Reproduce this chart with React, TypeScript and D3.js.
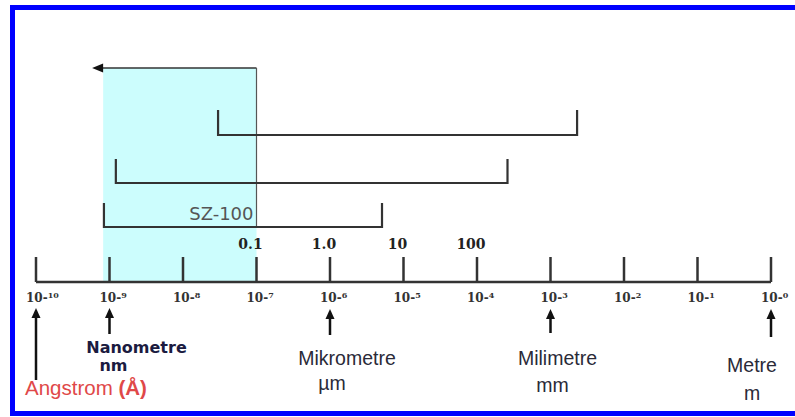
import React from "react";
import * as d3 from "d3";

const tickExponents = [-10, -9, -8, -7, -6, -5, -4, -3, -2, -1, 0];
const tickSuffix = ["10", "9", "8", "7", "6", "5", "4", "3", "2", "1", "0"];
const umLabels = ["0.1", "1.0", "10", "100"];
const umValues = [1e-7, 1e-6, 1e-5, 1e-4];
const rangeStarts = [3.0e-8, 1.22e-9, 8.4e-10];
const rangeEnds = [2.3e-3, 2.6e-4, 5.1e-6];
const rangeTops = [110, 159, 203];
const rangeBottoms = [135, 183, 227];
const rangeLabels = ["", "", "SZ-100"];
const shadeStart = 8.2e-10;
const shadeEnd = 1e-7;
const arrowTip = 5.8e-10;
const unitValues = [1e-10, 1e-9, 1e-6, 1e-3, 1];
const unitNames = ["Angstrom", "Nanometre", "Mikrometre", "Milimetre", "Metre"];
const unitSymbols = ["(Å)", "nm", "µm", "mm", "m"];

export default function App() {
  const x = d3.scaleLog().domain([1e-10, 1]).range([36, 771]);
  const axisY = 282;
  const dark = "#333";
  const sx = x(shadeStart);
  const ex = x(shadeEnd);
  const tipX = x(arrowTip);

  const upArrow = (cx: number, tip: number, bottom: number, key: string) => (
    <g key={key}>
      <line x1={cx} x2={cx} y1={tip + 8} y2={bottom} stroke="#111" strokeWidth={2.5} />
      <path d={`M${cx},${tip} L${cx - 4.5},${tip + 10} L${cx + 4.5},${tip + 10} Z`} fill="#111" />
    </g>
  );

  const unitFont = { fontFamily: "Liberation Sans", fontSize: 19.5, fill: "#2a2a38" };

  return (
    <div style={{ position: "absolute", left: 0, top: 0 }}>
      <svg width={795} height={417} style={{ display: "block" }}>
        <rect x={0} y={0} width={795} height={417} fill="#fff" />
        {/* shaded region */}
        <rect x={sx} y={68} width={ex - sx} height={axisY - 68} fill="#ccfdfd" />
        {/* top arrow and box right edge */}
        <line x1={ex} x2={tipX + 9} y1={68} y2={68} stroke={dark} strokeWidth={1.5} />
        <path d={`M${tipX},68 L${tipX + 11},63.5 L${tipX + 11},72.5 Z`} fill="#111" />
        <line x1={ex} x2={ex} y1={68} y2={227} stroke="#555" strokeWidth={1.2} />
        {/* brackets */}
        {rangeStarts.map((s, i) => {
          const a = x(s);
          const b = x(rangeEnds[i]);
          return (
            <path
              key={"r" + i}
              d={`M${a},${rangeTops[i]} L${a},${rangeBottoms[i]} L${b},${rangeBottoms[i]} L${b},${rangeTops[i]}`}
              fill="none"
              stroke={dark}
              strokeWidth={2.2}
            />
          );
        })}
        {rangeLabels.map((t, i) =>
          t ? (
            <text
              key={"rl" + i}
              x={ex - 3}
              y={rangeBottoms[i] - 7}
              textAnchor="end"
              fontFamily="DejaVu Sans"
              fontSize={18}
              fill="#555"
            >
              {t}
            </text>
          ) : null
        )}
        {/* micrometre labels */}
        {umValues.map((v, i) => (
          <text
            key={"um" + i}
            x={x(v) - 6}
            y={249}
            textAnchor="middle"
            fontFamily="DejaVu Serif"
            fontWeight="bold"
            fontSize={14}
            fill="#222"
          >
            {umLabels[i]}
          </text>
        ))}
        {/* axis */}
        <line x1={x(1e-10)} x2={x(1)} y1={axisY} y2={axisY} stroke={dark} strokeWidth={2.5} />
        {tickExponents.map((e, i) => (
          <g key={"t" + i}>
            <line x1={x(Math.pow(10, e))} x2={x(Math.pow(10, e))} y1={257} y2={axisY} stroke={dark} strokeWidth={2.5} />
            <text
              x={x(Math.pow(10, e)) - 10}
              y={302}
              fontFamily="DejaVu Serif"
              fontWeight="bold"
              fontSize={12}
              fill="#333"
            >
              10-
              <tspan fontSize={8} dy={-4}>
                {tickSuffix[i]}
              </tspan>
            </text>
          </g>
        ))}
        {/* unit arrows */}
        {upArrow(x(unitValues[0]), 308, 380, "a0")}
        {upArrow(x(unitValues[1]), 308, 334, "a1")}
        {upArrow(x(unitValues[2]), 309, 335, "a2")}
        {upArrow(x(unitValues[3]), 309, 333, "a3")}
        {upArrow(x(unitValues[4]), 309, 337, "a4")}
        {/* unit labels */}
        <text x={25} y={395} fontFamily="Liberation Sans" fontSize={20.5} fill="#e04848">
          {unitNames[0] + " "}
          <tspan fontWeight="bold">{unitSymbols[0]}</tspan>
        </text>
        <text x={x(unitValues[1]) + 27} y={353} textAnchor="middle" fontFamily="DejaVu Sans" fontWeight="bold" fontSize={16} fill="#1b1b40">
          {unitNames[1]}
        </text>
        <text x={x(unitValues[1]) + 4} y={371} textAnchor="middle" fontFamily="DejaVu Sans" fontWeight="bold" fontSize={16} fill="#1b1b40">
          {unitSymbols[1]}
        </text>
        <text x={x(unitValues[2]) + 17} y={365} textAnchor="middle" {...unitFont}>
          {unitNames[2]}
        </text>
        <text x={x(unitValues[2]) + 2} y={390} textAnchor="middle" {...unitFont}>
          {unitSymbols[2]}
        </text>
        <text x={x(unitValues[3]) + 7} y={365} textAnchor="middle" {...unitFont}>
          {unitNames[3]}
        </text>
        <text x={x(unitValues[3]) + 2} y={392} textAnchor="middle" {...unitFont}>
          {unitSymbols[3]}
        </text>
        <text x={x(unitValues[4]) - 19} y={372} textAnchor="middle" {...unitFont}>
          {unitNames[4]}
        </text>
        <text x={x(unitValues[4]) - 19} y={400} textAnchor="middle" {...unitFont}>
          {unitSymbols[4]}
        </text>
        {/* border */}
        <rect x={12.5} y={7.5} width={800} height={406} fill="none" stroke="#0000ff" strokeWidth={5} />
      </svg>
    </div>
  );
}
